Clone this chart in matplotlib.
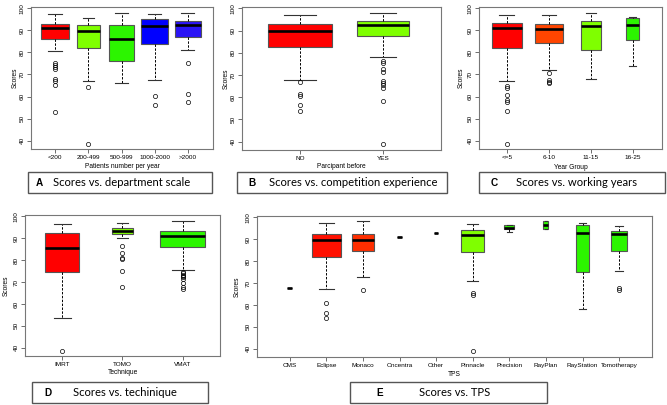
import matplotlib.pyplot as plt
from matplotlib.patches import Rectangle

# ── data ──────────────────────────────────────────────────────────────────────

A_CATS = ["<200", "200-499", "500-999", "1000-2000", ">2000"]
A_HI = [97.2, 95.6, 98.1, 97.3, 98.1]
A_Q3 = [93.0, 92.6, 92.3, 95.3, 94.1]
A_MED = [91.0, 89.7, 86.2, 92.1, 92.6]
A_Q1 = [85.9, 82.0, 76.1, 83.6, 86.9]
A_LO = [80.5, 67.0, 66.0, 67.4, 81.3]
A_OUT = [[75.0, 74.2, 73.5, 72.7, 67.9, 67.1, 65.1, 53.2],
         [64.2, 38.4],
         [],
         [60.2, 56.1],
         [75.0, 61.0, 57.5]]

B_CATS = ["NO", "YES"]
B_HI = [96.9, 97.8]
B_Q3 = [92.9, 94.2]
B_MED = [89.7, 92.3]
B_Q1 = [82.6, 87.4]
B_LO = [67.7, 78.0]
B_OUT = [[67.0, 61.2, 60.6, 56.6, 53.7],
         [76.1, 75.2, 72.5, 71.3, 67.4, 66.5, 65.6, 64.1, 58.1, 38.8]]

C_CATS = ["<=5", "6-10", "11-15", "16-25"]
C_HI = [96.9, 96.9, 97.8, 96.2]
C_Q3 = [93.2, 92.7, 94.2, 95.7]
C_MED = [90.9, 90.5, 92.0, 92.4]
C_Q1 = [82.2, 84.3, 81.3, 85.6]
C_LO = [67.0, 71.9, 68.0, 74.0]
C_OUT = [[64.7, 63.8, 60.9, 58.4, 57.5, 53.6, 38.5],
         [70.7, 67.4, 66.8, 66.2],
         [],
         []]

D_CATS = ["IMRT", "TOMO", "VMAT"]
D_HI = [96.6, 96.9, 98.0]
D_Q3 = [92.6, 94.7, 93.5]
D_MED = [85.4, 93.1, 91.2]
D_Q1 = [74.5, 91.8, 86.2]
D_LO = [53.6, 90.0, 75.5]
D_OUT = [[38.5],
         [86.3, 83.4, 80.8, 80.4, 75.1, 67.5],
         [74.7, 74.1, 73.3, 72.7, 72.1, 71.2, 69.6, 67.8, 67.0]]

E_CATS = ["CMS", "Eclipse", "Monaco", "Oncentra", "Other", "Pinnacle",
          "Precision", "RayPlan", "RayStation", "Tomotherapy"]
E_HI = [67.5, 97.3, 98.1, 91.1, 93.0, 97.0, 96.5, 98.4, 97.2, 95.9]
E_Q3 = [67.5, 92.6, 92.6, 91.1, 93.0, 94.3, 96.3, 98.4, 96.4, 93.7]
E_MED = [67.5, 89.8, 89.8, 91.1, 93.0, 92.1, 95.3, 96.5, 92.7, 92.4]
E_Q1 = [67.5, 81.9, 84.4, 91.1, 93.0, 84.1, 94.6, 94.6, 75.1, 84.7]
E_LO = [67.5, 67.2, 72.6, 91.1, 93.0, 71.1, 93.2, 94.6, 58.2, 75.4]
E_OUT = [[], [60.8, 56.5, 53.9], [66.7], [], [],
         [65.3, 64.3, 39.0], [], [], [], [67.6, 67.0]]

# ── styling ───────────────────────────────────────────────────────────────────

W, H = 667, 405
RED = "#ff0000"
ORANGE = "#ff4500"
CHART = "#7fff00"
GREEN = "#2cf500"
BLUE = "#0000ff"
BLUE2 = "#2a14f5"
EDGE = "#555555"

plt.rcParams["font.family"] = ["Liberation Sans", "DejaVu Sans"]

fig = plt.figure(figsize=(W / 100, H / 100), dpi=100)


def px_axes(l, t, r, b):
    return fig.add_axes([l / W, 1 - b / H, (r - l) / W, (b - t) / H])


def panel(rect, cats, hi, q3, med, q1, lo, out, colors, widths, xlim, xlabel,
          xlab_y, ylab_x):
    ax = px_axes(*rect)
    stats = [dict(q1=a, med=m, q3=c, whislo=l, whishi=h, fliers=f)
             for a, m, c, l, h, f in zip(q1, med, q3, lo, hi, out)]
    pos = list(range(1, len(cats) + 1))
    bp = ax.bxp(stats, positions=pos, widths=widths, patch_artist=True,
                capwidths=[w * 0.5 for w in widths],
                boxprops=dict(edgecolor=EDGE, linewidth=0.8),
                medianprops=dict(color="black", linewidth=1.9, solid_capstyle="butt"),
                whiskerprops=dict(color="black", linestyle=(0, (2.5, 1.5)), linewidth=0.7),
                capprops=dict(color="#333333", linewidth=0.8),
                flierprops=dict(marker="o", markersize=3.0, markerfacecolor="none",
                                markeredgecolor="black", markeredgewidth=0.5))
    for patch, c in zip(bp["boxes"], colors):
        patch.set_facecolor(c)
    ax.set_xlim(*xlim)
    ax.set_ylim(36.2, 100.6)
    ax.set_xticks(pos)
    ax.set_xticklabels(cats)
    ax.set_yticks(range(40, 101, 10))
    ax.tick_params(length=3, width=0.6, color="#555555", labelsize=4.6, pad=1.5)
    ax.tick_params(axis="y", labelrotation=90)
    for lab in ax.get_yticklabels():
        lab.set_va("center")
    for s in ax.spines.values():
        s.set_color("#777777")
        s.set_linewidth(0.8)
    cx = (rect[0] + rect[2]) / 2
    fig.text(cx / W, 1 - xlab_y / H, xlabel, fontsize=4.8, ha="center", va="center")
    cy = (rect[1] + rect[3]) / 2
    fig.text(ylab_x / W, 1 - cy / H, "Scores", fontsize=4.8, rotation=90,
             ha="center", va="center")
    return ax


def caption(l, t, r, b, letter, text, letter_x, text_x):
    fig.add_artist(Rectangle((l / W, 1 - b / H), (r - l) / W, (b - t) / H,
                             transform=fig.transFigure, fill=False,
                             edgecolor="#555555", linewidth=1.0))
    ym = 1 - (t + b) / 2 / H
    fig.text(letter_x / W, ym, letter, fontsize=7.2, fontweight="bold",
             ha="left", va="center")
    fig.text(text_x / W, ym, text, fontsize=8.1, family=["Lato", "DejaVu Sans"],
             ha="left", va="center")


panel((31, 7, 213, 149), A_CATS, A_HI, A_Q3, A_MED, A_Q1, A_LO, A_OUT,
      [RED, CHART, GREEN, BLUE, BLUE2], [0.84, 0.7, 0.74, 0.82, 0.78],
      (0.27, 5.76), "Patients number per year", 166, 15)
panel((242, 7, 441, 150), B_CATS, B_HI, B_Q3, B_MED, B_Q1, B_LO, B_OUT,
      [RED, CHART], [0.78, 0.62],
      (0.30, 2.70), "Parcipant before", 167, 226)
panel((479, 7, 662, 149), C_CATS, C_HI, C_Q3, C_MED, C_Q1, C_LO, C_OUT,
      [RED, ORANGE, CHART, GREEN], [0.72, 0.66, 0.48, 0.3],
      (0.34, 4.70), "Year Group", 168, 461)
panel((25, 215, 220, 356), D_CATS, D_HI, D_Q3, D_MED, D_Q1, D_LO, D_OUT,
      [RED, CHART, GREEN], [0.56, 0.36, 0.74],
      (0.38, 3.62), "Technique", 373, 6)
panel((257, 216, 652, 357), E_CATS, E_HI, E_Q3, E_MED, E_Q1, E_LO, E_OUT,
      [RED, "#ff1000", "#ff2e00", RED, RED, CHART, GREEN, GREEN, GREEN, GREEN],
      [0.14, 0.78, 0.62, 0.14, 0.1, 0.62, 0.27, 0.14, 0.35, 0.43],
      (0.1, 10.9), "TPS", 374, 237)

caption(28, 172, 212, 193, "A", "Scores vs. department scale", 36, 53)
caption(237, 172, 447, 193, "B", "Scores vs. competition experience", 248, 269)
caption(479, 172, 665, 193, "C", "Scores vs. working years", 491, 516)
caption(32, 382, 208, 403, "D", "Scores vs. techinique", 44, 73)
caption(350, 382, 547, 403, "E", "Scores vs. TPS", 376, 419)

fig.savefig("out.png", dpi=100)
